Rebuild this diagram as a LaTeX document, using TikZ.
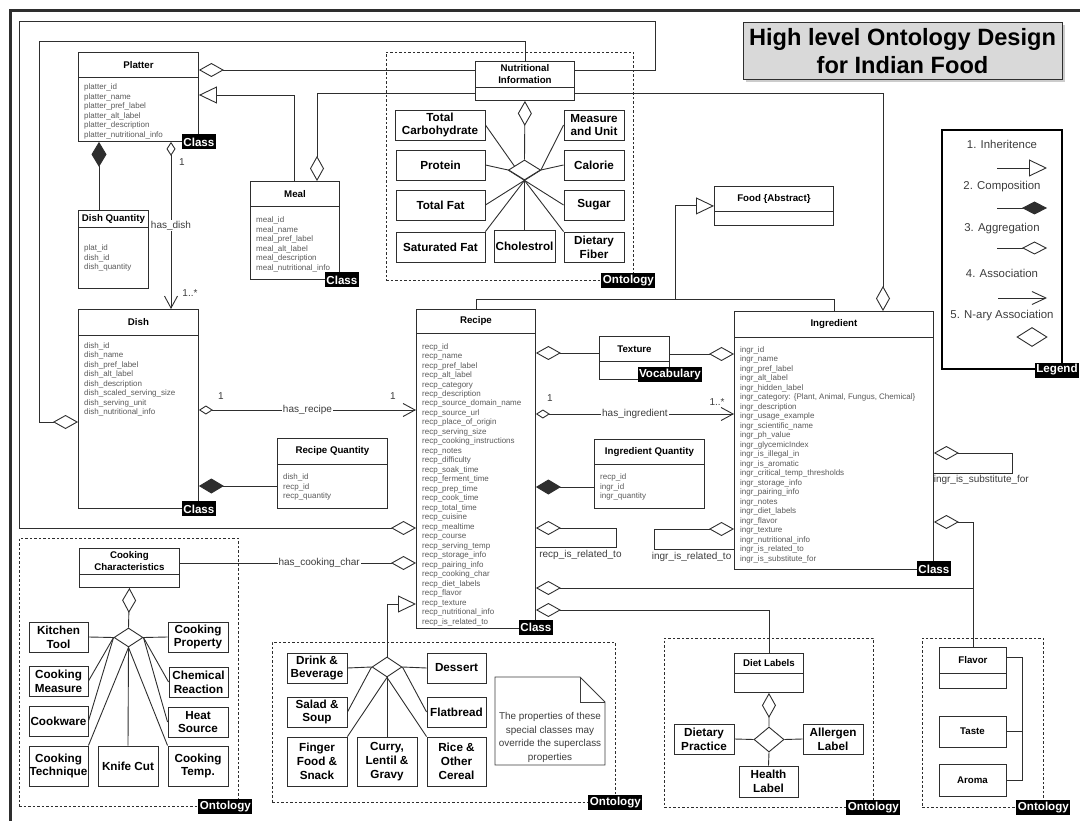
\documentclass[tikz,border=0pt]{standalone}
\usepackage{fontspec}
\setmainfont{Liberation Sans}
\usepackage{tikz}
\usetikzlibrary{shapes, arrows.meta, positioning, shadows}

\pgfdeclarelayer{background}
\pgfsetlayers{background,main}

\definecolor{linegray}{HTML}{2E2E2E}
\definecolor{attrgray}{HTML}{5A5A5A}
\definecolor{labelgray}{HTML}{3C3C3C}
\definecolor{titlefill}{HTML}{D9D9D9}

\tikzstyle{line} = [draw=linegray, line width=0.9pt]
\tikzstyle{aggr} = [line, {Diamond[open, length=25pt, width=14pt]}-]
\tikzstyle{assoc} = [line, {Diamond[open, length=14pt, width=9pt]}-{Straight Barb[length=12pt, width=13pt]}]
\tikzstyle{compo} = [line, {Diamond[length=25pt, width=15pt]}-]
\tikzstyle{inherit} = [line, -{Triangle[open, length=18pt, width=17pt]}]
\tikzstyle{classbox} = [rectangle, draw=linegray, line width=0.9pt, fill=white,
  anchor=north west, inner sep=0pt]
\tikzstyle{classhead} = [rectangle, draw=linegray, line width=0.9pt, anchor=north west,
  inner sep=0pt, align=center, font=\bfseries\fontsize{9.7}{12}\selectfont]
\tikzstyle{attrs} = [anchor=north west, align=left, inner sep=0pt, text=attrgray,
  font=\fontsize{8}{9.5}\selectfont]
\tikzstyle{concept} = [rectangle, draw=linegray, line width=0.9pt, fill=white,
  align=center, inner sep=0pt, font=\bfseries\fontsize{11.7}{13.7}\selectfont]
\tikzstyle{nary} = [diamond, draw=linegray, line width=0.9pt, fill=white, inner sep=0pt]
\tikzstyle{tag} = [fill=black, text=white, inner xsep=1.5pt, inner ysep=0pt,
  minimum height=15pt, font=\bfseries\fontsize{11.6}{12}\selectfont]
\tikzstyle{ontoframe} = [draw=linegray, line width=0.8pt, dash pattern=on 2.5pt off 2pt,
  inner sep=0pt]
\tikzstyle{rellabel} = [text=labelgray, inner sep=1pt, font=\fontsize{10}{12}\selectfont]
\tikzstyle{legendtext} = [text=labelgray, inner sep=0pt, font=\fontsize{11.4}{13}\selectfont]
\tikzstyle{titlebox} = [rectangle, draw=linegray, line width=1pt, fill=titlefill,
  align=center, drop shadow={shadow xshift=2.5pt, shadow yshift=-2.5pt, fill=black!40},
  font=\bfseries\fontsize{23.6}{28}\selectfont]

\begin{document}
\begin{tikzpicture}[x=1pt, y=-1pt]

      \useasboundingbox (0,0) rectangle (1080,821);
      \draw [linegray, line width=2.4pt] (10.5,10.5) rectangle (1200,900);

      %
      % Title and legend
      %

      \node [titlebox, minimum width=319, minimum height=57] (title) at (902.5,51.5)
        {High level Ontology Design\\for Indian Food};

      \node [rectangle, draw=black, line width=2pt, minimum width=120, minimum height=239] (legend) at (1002,249.5) {};
      \node [tag] (legendtag) at ([xshift=-6]legend.south east) {Legend};
      \node [legendtext] (lgone) at (1002,144) {1. Inheritence};
      \node [legendtext] (lgtwo) at (1002,187) {2. Composition};
      \node [legendtext] (lgthree) at (1002,229) {3. Aggregation};
      \node [legendtext] (lgfour) at (1002,273) {4. Association};
      \node [legendtext] (lgfive) at (1002,316) {5. N-ary Association};
      \coordinate (lgia) at (997,168);  \coordinate (lgib) at (1047,168);
      \coordinate (lgca) at (997,208);  \coordinate (lgcb) at (1047,208);
      \coordinate (lgaa) at (997,248);  \coordinate (lgab) at (1047,248);
      \coordinate (lgsa) at (998,298);  \coordinate (lgsb) at (1047,298);
      \draw [inherit] (lgia) -- (lgib);
      \draw [line, -{Diamond[length=25pt, width=13pt]}] (lgca) -- (lgcb);
      \draw [line, -{Diamond[open, length=25pt, width=13pt]}] (lgaa) -- (lgab);
      \draw [line, -{Straight Barb[length=14pt, width=13pt]}] (lgsa) -- (lgsb);
      \node [nary, minimum width=30, minimum height=19] (lgnary) at (1032,337) {};

      %
      % Ontology frames
      %

      \node [ontoframe, minimum width=247, minimum height=228] (nutframe) at (509.5,166) {};
      \node [ontoframe, minimum width=219, minimum height=268] (cookframe) at (128.5,672) {};
      \node [ontoframe, minimum width=343, minimum height=160] (recframe) at (443.5,722) {};
      \node [ontoframe, minimum width=209, minimum height=169] (dietframe) at (768.5,722.5) {};
      \node [ontoframe, minimum width=121, minimum height=169] (flavframe) at (982.5,722.5) {};

      %
      % Classes
      %

      \node [classbox, minimum width=120, minimum height=89] (platter) at (78,52) {};
      \node [classhead, minimum width=120, minimum height=25] (platterhead) at (platter.north west) {Platter};
      \node [attrs] (platterattr) at (84,83.6) {platter\_id\\platter\_name\\platter\_pref\_label\\platter\_alt\_label\\platter\_description\\platter\_nutritional\_info};

      \node [classbox, minimum width=70, minimum height=78] (dishqty) at (78,210) {};
      \node [classhead, minimum width=70, minimum height=17] (dishqtyhead) at (dishqty.north west) {Dish Quantity};
      \node [attrs] (dishqtyattr) at (84,244.6) {plat\_id\\dish\_id\\dish\_quantity};

      \node [classbox, minimum width=89, minimum height=98] (meal) at (250,181) {};
      \node [classhead, minimum width=89, minimum height=25] (mealhead) at (meal.north west) {Meal};
      \node [attrs] (mealattr) at (256,217) {meal\_id\\meal\_name\\meal\_pref\_label\\meal\_alt\_label\\meal\_description\\meal\_nutritional\_info};

      \node [classbox, minimum width=120, minimum height=199] (dish) at (78,309) {};
      \node [classhead, minimum width=120, minimum height=26] (dishhead) at (dish.north west) {Dish};
      \node [attrs] (dishattr) at (84,342.5) {dish\_id\\dish\_name\\dish\_pref\_label\\dish\_alt\_label\\dish\_description\\dish\_scaled\_serving\_size\\dish\_serving\_unit\\dish\_nutritional\_info};

      \node [classbox, minimum width=110, minimum height=70] (recipeqty) at (277,438) {};
      \node [classhead, minimum width=110, minimum height=26] (recipeqtyhead) at (recipeqty.north west) {Recipe Quantity};
      \node [attrs] (recipeqtyattr) at (283,473.6) {dish\_id\\recp\_id\\recp\_quantity};

      \node [classbox, minimum width=119, minimum height=319] (recipe) at (416,309) {};
      \node [classhead, minimum width=119, minimum height=24] (recipehead) at (recipe.north west) {Recipe};
      \node [attrs] (recipeattr) at (422,343) {recp\_id\\recp\_name\\recp\_pref\_label\\recp\_alt\_label\\recp\_category\\recp\_description\\recp\_source\_domain\_name\\recp\_source\_url\\recp\_place\_of\_origin\\recp\_serving\_size\\recp\_cooking\_instructions\\recp\_notes\\recp\_difficulty\\recp\_soak\_time\\recp\_ferment\_time\\recp\_prep\_time\\recp\_cook\_time\\recp\_total\_time\\recp\_cuisine\\recp\_mealtime\\recp\_course\\recp\_serving\_temp\\recp\_storage\_info\\recp\_pairing\_info\\recp\_cooking\_char\\recp\_diet\_labels\\recp\_flavor\\recp\_texture\\recp\_nutritional\_info\\recp\_is\_related\_to};

      \node [classbox, minimum width=110, minimum height=69] (ingrqty) at (594,439) {};
      \node [classhead, minimum width=110, minimum height=25] (ingrqtyhead) at (ingrqty.north west) {Ingredient Quantity};
      \node [attrs] (ingrqtyattr) at (600,473.6) {recp\_id\\ingr\_id\\ingr\_quantity};

      \node [classbox, minimum width=199, minimum height=258] (ingredient) at (734,311) {};
      \node [classhead, minimum width=199, minimum height=26] (ingredienthead) at (ingredient.north west) {Ingredient};
      \node [attrs] (ingredientattr) at (740,346.3) {ingr\_id\\ingr\_name\\ingr\_pref\_label\\ingr\_alt\_label\\ingr\_hidden\_label\\ingr\_category: \{Plant, Animal, Fungus, Chemical\}\\ingr\_description\\ingr\_usage\_example\\ingr\_scientific\_name\\ingr\_ph\_value\\ingr\_glycemicIndex\\ingr\_is\_illegal\_in\\ingr\_is\_aromatic\\ingr\_critical\_temp\_thresholds\\ingr\_storage\_info\\ingr\_pairing\_info\\ingr\_notes\\ingr\_diet\_labels\\ingr\_flavor\\ingr\_texture\\ingr\_nutritional\_info\\ingr\_is\_related\_to\\ingr\_is\_substitute\_for};

      \node [classbox, minimum width=70, minimum height=43] (texture) at (599,336) {};
      \node [classhead, minimum width=70, minimum height=25] (texturehead) at (texture.north west) {Texture};

      \node [classbox, minimum width=119, minimum height=39] (food) at (714,186) {};
      \node [classhead, minimum width=119, minimum height=25] (foodhead) at (food.north west) {Food \{Abstract\}};

      \node [tag] (plattertag) at (platter.south east) {Class};
      \node [tag] (mealtag) at ([xshift=2]meal.south east) {Class};
      \node [tag] (dishtag) at (dish.south east) {Class};
      \node [tag] (recipetag) at ([yshift=1.5]recipe.south east) {Class};
      \node [tag] (ingredienttag) at ([yshift=1]ingredient.south east) {Class};
      \node [tag] (texturetag) at ([yshift=5]texture.south east) {Vocabulary};

      %
      % Nutritional information
      %

      \node [classbox, minimum width=99, minimum height=39] (nutinfo) at (475,61) {};
      \node [classhead, minimum width=99, minimum height=26, font=\bfseries\fontsize{9.7}{12}\selectfont] (nutinfohead) at (nutinfo.north west) {Nutritional\\Information};
      \node [nary, minimum width=32, minimum height=20] (nutnary) at (524.5,170) {};
      \node [concept, minimum width=90, minimum height=30] (tcarb) at (440,125) {Total\\Carbohydrate};
      \node [concept, minimum width=60, minimum height=30] (measure) at (594,125) {Measure\\and Unit};
      \node [concept, minimum width=89, minimum height=30] (protein) at (440.5,165) {Protein};
      \node [concept, minimum width=60, minimum height=30] (calorie) at (594,165) {Calorie};
      \node [concept, minimum width=89, minimum height=30] (totfat) at (440.5,205) {Total Fat};
      \node [concept, minimum width=60, minimum height=30] (sugar) at (594,205) {Sugar};
      \node [concept, minimum width=89, minimum height=30] (satfat) at (440.5,247) {Saturated Fat};
      \node [concept, minimum width=61, minimum height=32] (cholest) at (524.5,246) {Cholestrol};
      \node [concept, minimum width=60, minimum height=30] (fiber) at (594,247) {Dietary\\Fiber};
      \node [tag] (nuttag) at ([xshift=-5]nutframe.south east) {Ontology};

      \draw [aggr] (nutinfo.south) -- (nutnary.north);
      \begin{pgfonlayer}{background}
        \draw [line] (tcarb.east) -- (nutnary.south);
        \draw [line] (protein.east) -- (nutnary.west);
        \draw [line] (totfat.east) -- (nutnary.east);
        \draw [line] (satfat.north east) -- (nutnary.south);
        \draw [line] (cholest.north) -- (nutnary.south);
        \draw [line] (fiber.north west) -- (nutnary.south);
        \draw [line] (sugar.west) -- (nutnary.west);
        \draw [line] (calorie.west) -- (nutnary.east);
        \draw [line] (measure.west) -- (nutnary.east);
      \end{pgfonlayer}

      %
      % Cooking characteristics
      %

      \node [classbox, minimum width=100, minimum height=39] (cookchar) at (79,548) {};
      \node [classhead, minimum width=100, minimum height=26] (cookcharhead) at (cookchar.north west) {Cooking\\Characteristics};
      \node [nary, minimum width=29, minimum height=19] (cooknary) at (128.5,637.5) {};
      \node [concept, minimum width=59, minimum height=30] (kitchen) at (58.5,637) {Kitchen\\Tool};
      \node [concept, minimum width=60, minimum height=30] (cprop) at (198,637) {Cooking\\Property};
      \node [concept, minimum width=59, minimum height=30] (cmeasure) at (58.5,681) {Cooking\\Measure};
      \node [concept, minimum width=59, minimum height=30] (chemreact) at (198.5,682) {Chemical\\Reaction};
      \node [concept, minimum width=59, minimum height=30] (cookware) at (58.5,721) {Cookware};
      \node [concept, minimum width=60, minimum height=30] (heat) at (198,722) {Heat\\Source};
      \node [concept, minimum width=59, minimum height=40] (technique) at (58.5,766) {Cooking\\Technique};
      \node [concept, minimum width=60, minimum height=40] (knife) at (128,766) {Knife Cut};
      \node [concept, minimum width=60, minimum height=40] (ctemp) at (198,766) {Cooking\\Temp.};
      \node [tag] (cooktag) at ([xshift=-13]cookframe.south east) {Ontology};

      \draw [aggr] (cookchar.south) -- (cooknary.north);
      \begin{pgfonlayer}{background}
        \draw [line] (kitchen.east) -- (cooknary.west);
        \draw [line] (cprop.west) -- (cooknary.east);
        \draw [line] (cmeasure.east) -- (cooknary.west);
        \draw [line] (cookware.east) -- (cooknary.west);
        \draw [line] (technique.north east) -- (cooknary.south);
        \draw [line] (knife.north) -- (cooknary.south);
        \draw [line] (ctemp.north west) -- (cooknary.south);
        \draw [line] (heat.west) -- (cooknary.east);
        \draw [line] (chemreact.west) -- (cooknary.east);
      \end{pgfonlayer}

      %
      % Recipe special classes
      %

      \node [nary, minimum width=30, minimum height=20] (recnary) at (387,667) {};
      \node [concept, minimum width=60, minimum height=30] (drink) at (317,668) {Drink \&\\Beverage};
      \node [concept, minimum width=59, minimum height=30] (dessert) at (456.5,668) {Dessert};
      \node [concept, minimum width=60, minimum height=30] (salad) at (317,712) {Salad \&\\Soup};
      \node [concept, minimum width=59, minimum height=30] (flatbread) at (456.5,712) {Flatbread};
      \node [concept, minimum width=60, minimum height=49] (finger) at (317,761.5) {Finger\\Food \&\\Snack};
      \node [concept, minimum width=60, minimum height=49] (curry) at (387,761.5) {Curry,\\Lentil \&\\Gravy};
      \node [concept, minimum width=59, minimum height=49] (rice) at (456.5,761.5) {Rice \&\\Other\\Cereal};
      \draw [line, draw=labelgray, line width=0.8pt] (495,677) -- (580,677) -- (605,702) -- (605,765) -- (495,765) -- cycle;
      \draw [line, draw=labelgray, line width=0.8pt] (580,677) -- (580,702) -- (605,702);
      \node [align=center, text=labelgray, inner sep=0pt, font=\fontsize{9.9}{13.7}\selectfont] (note) at (550,737.5)
        {The properties of these\\special classes may\\override the superclass\\properties};
      \node [tag] (rectag) at (recframe.south east) {Ontology};

      \begin{pgfonlayer}{background}
        \draw [line] (drink.east) -- (recnary.west);
        \draw [line] (dessert.west) -- (recnary.east);
        \draw [line] (salad.east) -- (recnary.west);
        \draw [line] (flatbread.west) -- (recnary.east);
        \draw [line] (finger.north east) -- (recnary.south);
        \draw [line] (curry.north) -- (recnary.south);
        \draw [line] (rice.north west) -- (recnary.south);
      \end{pgfonlayer}
      \draw [inherit] (recnary.north) |- ([yshift=-295]recipe.north west);

      %
      % Diet labels and flavor
      %

      \node [classbox, minimum width=69, minimum height=39] (dietlabels) at (734,653) {};
      \node [classhead, minimum width=69, minimum height=20] (dietlabelshead) at (dietlabels.north west) {Diet Labels};
      \node [nary, minimum width=30, minimum height=25] (dietnary) at (769,739.5) {};
      \node [concept, minimum width=60, minimum height=30] (dpractice) at (704,739) {Dietary\\Practice};
      \node [concept, minimum width=60, minimum height=30] (allergen) at (833,739) {Allergen\\Label};
      \node [concept, minimum width=59, minimum height=31] (health) at (768.5,781.5) {Health\\Label};
      \node [tag] (diettag) at (dietframe.south east) {Ontology};
      \draw [aggr] (dietlabels.south) -- (dietnary.north);
      \draw [line] (dpractice.east) -- (dietnary.west);
      \draw [line] (allergen.west) -- (dietnary.east);
      \draw [line] (health.north) -- (dietnary.south);

      \node [classbox, minimum width=67, minimum height=41] (flavor) at (939,647) {};
      \node [classhead, minimum width=67, minimum height=26] (flavorhead) at (flavor.north west) {Flavor};
      \node [concept, minimum width=67, minimum height=31, font=\bfseries\fontsize{9.7}{12}\selectfont] (taste) at (972.5,731.5) {Taste};
      \node [concept, minimum width=67, minimum height=32, font=\bfseries\fontsize{9.7}{12}\selectfont] (aroma) at (972.5,780) {Aroma};
      \node [tag] (flavtag) at (flavframe.south east) {Ontology};
      \draw [line] ([yshift=-10]flavor.north east) -- ++(16,0) |- (aroma.east);
      \draw [line] (taste.east) -- ++(16,0);

      %
      % Relations
      %

      \coordinate (platnut) at ([yshift=-18]platter.north east);
      \draw [aggr] (platnut) -- (platnut -| nutinfo.west);
      \draw [inherit] ([xshift=44]meal.north west) |- ([yshift=-43]platter.north east);
      \draw [aggr] ([xshift=67]meal.north west) |- ([yshift=-32]nutinfo.north west);
      \draw [aggr] ([yshift=-113]dish.north west) -- ++(-39,0) -- ++(0,-381) -| ([xshift=50]nutinfo.north west);
      \draw [aggr] ([yshift=-219]recipe.north west) -- ++(-397,0) -- ++(0,-507) -- ++(636,0) |- ([yshift=-9]nutinfo.north east);
      \draw [aggr] ([xshift=149]ingredient.north west) |- ([yshift=-32]nutinfo.north east);

      \draw [compo] ([xshift=21]platter.south west) -- ([xshift=21]dishqty.north west);
      \draw [assoc] ([xshift=93]platter.south west) -- node [rellabel, fill=white] (hasdish) {has\_dish} ([xshift=93]dish.north west);
      \node [rellabel] (platone) at (182,162) {1};
      \node [rellabel] (dishmany) at (190,293) {1..*};

      \coordinate (dishrec) at ([yshift=-101]dish.north east);
      \draw [assoc] (dishrec) -- node [rellabel, fill=white] (hasrecipe) {has\_recipe} (dishrec -| recipe.west);
      \node [rellabel] (dishone) at (221,396) {1};
      \node [rellabel] (recone) at (393,396) {1};
      \coordinate (dishrq) at ([yshift=-177]dish.north east);
      \draw [compo] (dishrq) -- (dishrq -| recipeqty.west);

      \draw [line] ([xshift=60]recipe.north west) -- ([xshift=60, yshift=10]recipe.north west) -| (ingredient.north);
      \draw [inherit] ([xshift=259, yshift=10]recipe.north west) |- (food.west);

      \coordinate (rectex) at ([yshift=-44]recipe.north east);
      \draw [aggr] (rectex) -- (rectex -| texture.west);
      \coordinate (ingtex) at ([yshift=-43]ingredient.north west);
      \draw [aggr] (ingtex) -- (ingtex -| texture.east);

      \coordinate (recing) at ([yshift=-105]recipe.north east);
      \draw [assoc] (recing) -- node [rellabel, fill=white] (hasingr) {has\_ingredient} (recing -| ingredient.west);
      \node [rellabel] (recingone) at (550,398) {1};
      \node [rellabel] (ingmany) at (717,402) {1..*};
      \coordinate (reciq) at ([yshift=-178]recipe.north east);
      \draw [compo] (reciq) -- (reciq -| ingrqty.west);

      \draw [aggr] ([yshift=-219]recipe.north east) -- ++(81,0) -- ++(0,19) -- node [rellabel, below=1.5pt, pos=0.45] (recrel) {recp\_is\_related\_to} ++(-81,0);
      \draw [aggr] ([yshift=-218]ingredient.north west) -- ++(-80,0) -- ++(0,20) -- node [rellabel, below=1.5pt, pos=0.47] (ingrel) {ingr\_is\_related\_to} ++(80,0);
      \draw [aggr] ([yshift=-142]ingredient.north east) -- ++(79,0) -- ++(0,20) -- node [rellabel, below=1pt, pos=0.4] (ingsub) {ingr\_is\_substitute\_for} ++(-79,0);
      \draw [aggr] ([yshift=-211]ingredient.north east) -| (flavor.north);

      \coordinate (recflav) at ([yshift=-279]recipe.north east);
      \draw [aggr] (recflav) -- (recflav -| flavor.north);
      \draw [aggr] ([yshift=-301]recipe.north east) -| (dietlabels.north);

      \coordinate (reccook) at ([yshift=-254]recipe.north west);
      \draw [aggr] (reccook) -- node [rellabel, fill=white, pos=0.41] (hascook) {has\_cooking\_char} (reccook -| cookchar.east);

    \end{tikzpicture}
\end{document}
